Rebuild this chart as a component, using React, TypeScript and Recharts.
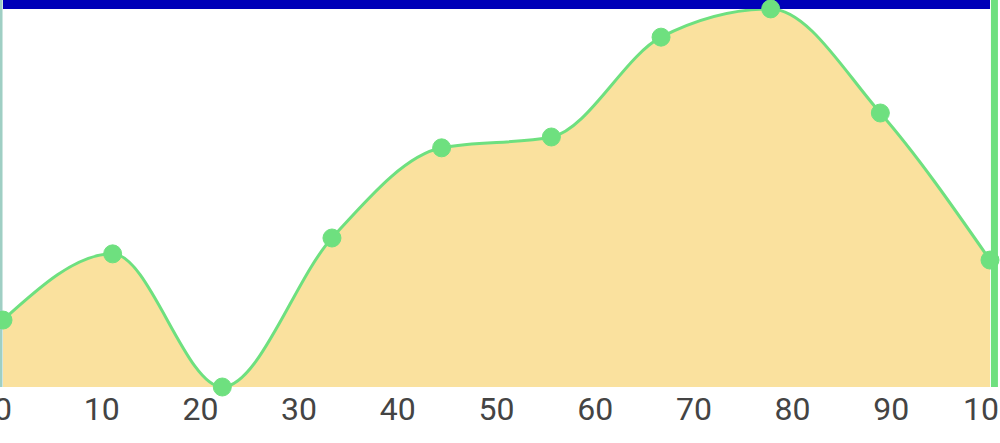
import React from 'react';
import { AreaChart, Area, XAxis, YAxis, ReferenceLine } from 'recharts';

const xValues = [0, 11.11, 22.22, 33.33, 44.44, 55.56, 66.67, 77.78, 88.89, 100];
const yValues = [17.3, 34.4, 0, 38.5, 61.8, 64.6, 90.4, 97.7, 70.8, 32.8];
const xTicks = [0, 10, 20, 30, 40, 50, 60, 70, 80, 90, 100];

const data = xValues.map((x, i) => ({ x, y: yValues[i] }));

export default function App() {
  return (
    <div style={{ position: 'fixed', left: 0, top: 0, width: 1000, height: 443, background: '#fff' }}>
      <AreaChart width={1000} height={443} data={data} margin={{ top: 0, right: 10, left: 3, bottom: 0 }}>
        <XAxis
          dataKey="x"
          type="number"
          domain={[0, 100]}
          ticks={xTicks}
          axisLine={false}
          tickLine={false}
          tickSize={6}
          tickMargin={4}
          height={56}
          interval={0}
          tick={{ fill: '#444', fontSize: 32, fontFamily: 'Roboto' }}
        />
        <YAxis hide domain={[0, 100]} />
        <Area
          type="monotone"
          dataKey="y"
          stroke="#6ee07f"
          strokeWidth={3}
          fill="#fae19e"
          fillOpacity={1}
          dot={{ r: 9, fill: '#6ee07f', stroke: '#6ee07f', strokeWidth: 1 }}
          activeDot={false}
          isAnimationActive={false}
        />
        <ReferenceLine y={100} stroke="#0000b8" strokeWidth={18} ifOverflow="visible" />
        <ReferenceLine x={-0.2} stroke="#9fcfc4" strokeWidth={3} ifOverflow="visible" />
        <ReferenceLine x={100.45} stroke="#6ee07f" strokeWidth={7} ifOverflow="visible" />
      </AreaChart>
    </div>
  );
}
